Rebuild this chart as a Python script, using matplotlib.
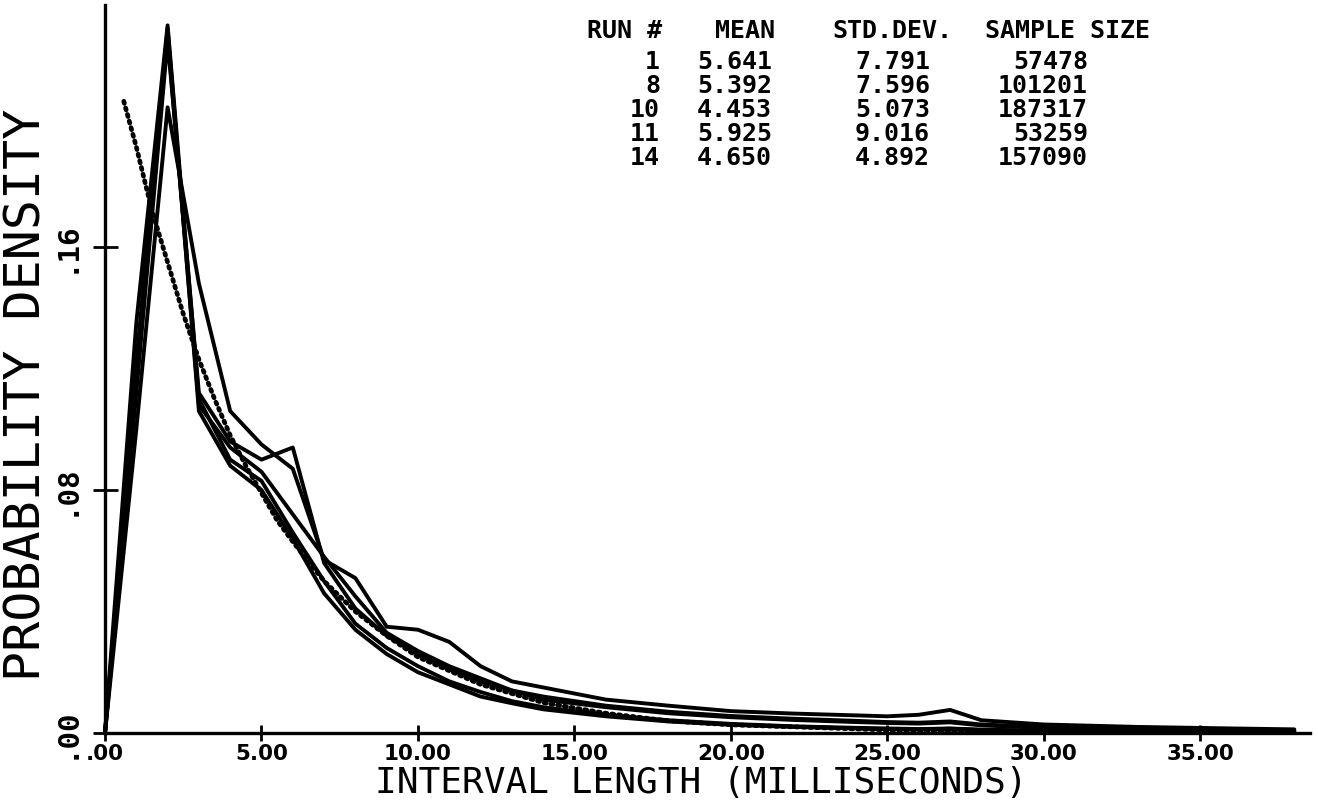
import matplotlib
matplotlib.use("Agg")
import matplotlib.pyplot as plt

# ---------------- DATA ----------------
interval_ms = [0, 1, 2, 3, 4, 5, 6, 7, 8, 9, 10, 11, 12, 13, 14, 16, 18, 20,
               22, 24, 25, 26, 27, 28, 30, 33, 36, 38]

run1 = [0, 0.112, 0.228, 0.112, 0.096, 0.090, 0.094, 0.056, 0.041, 0.032,
        0.026, 0.021, 0.017, 0.014, 0.012, 0.0090, 0.0070, 0.0056, 0.0047,
        0.0040, 0.0036, 0.0034, 0.0038, 0.0028, 0.0020, 0.0014, 0.0010, 0.0007]
run8 = [0, 0.118, 0.230, 0.108, 0.094, 0.086, 0.072, 0.058, 0.045, 0.033,
        0.027, 0.022, 0.018, 0.014, 0.011, 0.0085, 0.0065, 0.0052, 0.0043,
        0.0036, 0.0033, 0.0031, 0.0035, 0.0025, 0.0017, 0.0012, 0.0008, 0.0006]
run10 = [0, 0.135, 0.233, 0.110, 0.090, 0.083, 0.066, 0.050, 0.036, 0.028,
         0.022, 0.017, 0.0135, 0.0105, 0.0085, 0.0060, 0.0042, 0.0030, 0.0022,
         0.0017, 0.0015, 0.0013, 0.0015, 0.0011, 0.0008, 0.0005, 0.0003, 0.0002]
run11 = [0, 0.100, 0.206, 0.148, 0.106, 0.095, 0.087, 0.057, 0.051, 0.035,
         0.034, 0.030, 0.022, 0.017, 0.015, 0.011, 0.0090, 0.0072, 0.0064,
         0.0058, 0.0055, 0.0060, 0.0076, 0.0042, 0.0028, 0.0020, 0.0015, 0.0012]
run14 = [0, 0.122, 0.232, 0.106, 0.088, 0.080, 0.064, 0.046, 0.034, 0.026,
         0.020, 0.016, 0.012, 0.0098, 0.0078, 0.0055, 0.0038, 0.0027, 0.0020,
         0.0015, 0.0013, 0.0012, 0.0014, 0.0010, 0.0006, 0.0004, 0.0002, 0.0001]

# exponential reference curve (dotted)
expo_ms = [0.6, 1, 1.5, 2, 2.5, 3, 3.5, 4, 4.5, 5, 5.5, 6, 7, 8, 9, 10, 12,
           14, 16, 18, 20, 25, 30, 38]
expo_density = [0.208, 0.193, 0.172, 0.155, 0.138, 0.123, 0.110, 0.098,
                0.088, 0.079, 0.070, 0.063, 0.050, 0.040, 0.032, 0.025, 0.016,
                0.010, 0.0065, 0.004, 0.0027, 0.001, 0.0004, 0.0001]

run_ids = ["1", "8", "10", "11", "14"]
means = ["5.641", "5.392", "4.453", "5.925", "4.650"]
std_devs = ["7.791", "7.596", "5.073", "9.016", "4.892"]
sample_sizes = ["57478", "101201", "187317", "53259", "157090"]

x_ticks = [0, 5, 10, 15, 20, 25, 30, 35]
x_tick_labels = [".00", "5.00", "10.00", "15.00", "20.00", "25.00", "30.00", "35.00"]
y_ticks = [0, 0.08, 0.16]
y_tick_labels = [".00", ".08", ".16"]

# ---------------- FIGURE ----------------
W, H = 1318, 805
fig = plt.figure(figsize=(W / 100, H / 100), dpi=100)


def fx(px):
    return px / W


def fy(py):
    return 1 - py / H


ax = fig.add_axes([fx(105), fy(733), fx(1310) - fx(105), fy(5) - fy(733)])

for run in (run1, run8, run10, run11, run14):
    ax.plot(interval_ms, run, color="black", lw=2.8, solid_joinstyle="round",
            solid_capstyle="round", clip_on=False)
ax.plot(expo_ms, expo_density, color="black", lw=3.4,
        linestyle=(0, (0.45, 1.0)), dash_capstyle="round")

ax.set_xlim(0, 38.5)
ax.set_ylim(0, 0.2397)

for side in ("top", "right"):
    ax.spines[side].set_visible(False)
for side in ("left", "bottom"):
    ax.spines[side].set_linewidth(2.4)

ax.set_xticks(x_ticks)
ax.set_xticklabels(x_tick_labels, fontsize=15.5, fontweight="bold",
                   family="DejaVu Sans")
ax.set_yticks(y_ticks)
ax.set_yticklabels(y_tick_labels, fontsize=21, family="DejaVu Sans Mono",
                   fontweight="bold", rotation=90, va="center")
ax.tick_params(axis="x", direction="inout", length=12, width=2, pad=2)
ax.tick_params(axis="y", direction="inout", length=18, width=2, pad=9)

fig.text(fx(27), fy(395), "PROBABILITY DENSITY", rotation=90,
         ha="center", va="center", fontsize=36, family="DejaVu Sans Mono")
fig.text(fx(701), fy(783), "INTERVAL LENGTH (MILLISECONDS)",
         ha="center", va="center", fontsize=26, family="DejaVu Sans Mono")

# ---------------- SUMMARY TABLE ----------------
tbl = dict(fontsize=18, family="DejaVu Sans Mono", fontweight="bold",
           va="center")
fig.text(fx(587), fy(31), "RUN #", ha="left", **tbl)
fig.text(fx(775), fy(31), "MEAN", ha="right", **tbl)
fig.text(fx(832), fy(31), "STD.DEV.", ha="left", **tbl)
fig.text(fx(985), fy(31), "SAMPLE SIZE", ha="left", **tbl)

row_y = [62, 86, 110, 134, 158]
for py, rid, m, s, n in zip(row_y, run_ids, means, std_devs, sample_sizes):
    fig.text(fx(660), fy(py), rid, ha="right", **tbl)
    fig.text(fx(772), fy(py), m, ha="right", **tbl)
    fig.text(fx(930), fy(py), s, ha="right", **tbl)
    fig.text(fx(1088), fy(py), n, ha="right", **tbl)

fig.savefig("out.png", dpi=100)
